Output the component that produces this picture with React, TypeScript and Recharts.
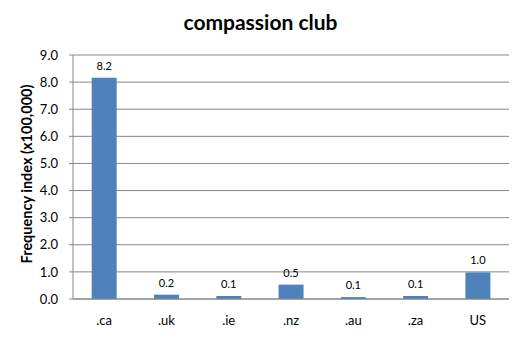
import React from 'react';
import { BarChart, Bar, XAxis, YAxis, CartesianGrid, LabelList } from 'recharts';

const categories = ['.ca', '.uk', '.ie', '.nz', '.au', '.za', 'US'];
const values = [8.16, 0.16, 0.11, 0.53, 0.07, 0.11, 0.98];
const yTicks = [0, 1, 2, 3, 4, 5, 6, 7, 8, 9];
const title = 'compassion club';
const yLabel = 'Frequency index (x100,000)';

const data = categories.map((c, i) => ({ name: c, value: values[i] }));

const FONT = 'Lato, "Open Sans", sans-serif';

export default function App() {
  return (
    <div style={{ position: 'absolute', left: 0, top: 0, width: 521, height: 338, background: '#fff', fontFamily: FONT }}>
      <div style={{ position: 'absolute', left: 0, top: 9, width: 521, textAlign: 'center', fontSize: 21, fontWeight: 700, color: '#000' }}>
        {title}
      </div>
      <svg style={{ position: 'absolute', left: 0, top: 0 }} width={60} height={338}>
        <text x={32} y={174} transform="rotate(-90 32 174)" textAnchor="middle" fontSize={14.5} fontWeight={700} fill="#000" fontFamily={FONT}>
          {yLabel}
        </text>
      </svg>
      <div style={{ position: 'absolute', left: 0, top: 0 }}>
        <BarChart width={521} height={338} data={data} margin={{ top: 55, right: 12, bottom: 0, left: 0 }} barCategoryGap="30%">
          <CartesianGrid vertical={false} stroke="#868686" strokeWidth={1} />
          <XAxis
            dataKey="name"
            height={39}
            axisLine={{ stroke: '#868686' }}
            tickLine={false}
            tickSize={0}
            tickMargin={17}
            tick={{ fill: '#000', fontSize: 13, fontFamily: FONT }}
            interval={0}
          />
          <YAxis
            width={73}
            domain={[0, 9]}
            ticks={yTicks}
            interval={0}
            axisLine={{ stroke: '#868686' }}
            tickLine={{ stroke: '#868686' }}
            tickSize={4}
            tickMargin={11}
            tickFormatter={(v: number) => v.toFixed(1)}
            tick={{ fill: '#000', fontSize: 13, fontFamily: FONT }}
          />
          <Bar dataKey="value" fill="#4F81BD" isAnimationActive={false}>
            <LabelList
              dataKey="value"
              position="top"
              offset={8}
              formatter={(v: number) => v.toFixed(1)}
              style={{ fill: '#000', fontSize: 11, fontFamily: FONT }}
            />
          </Bar>
        </BarChart>
      </div>
    </div>
  );
}
